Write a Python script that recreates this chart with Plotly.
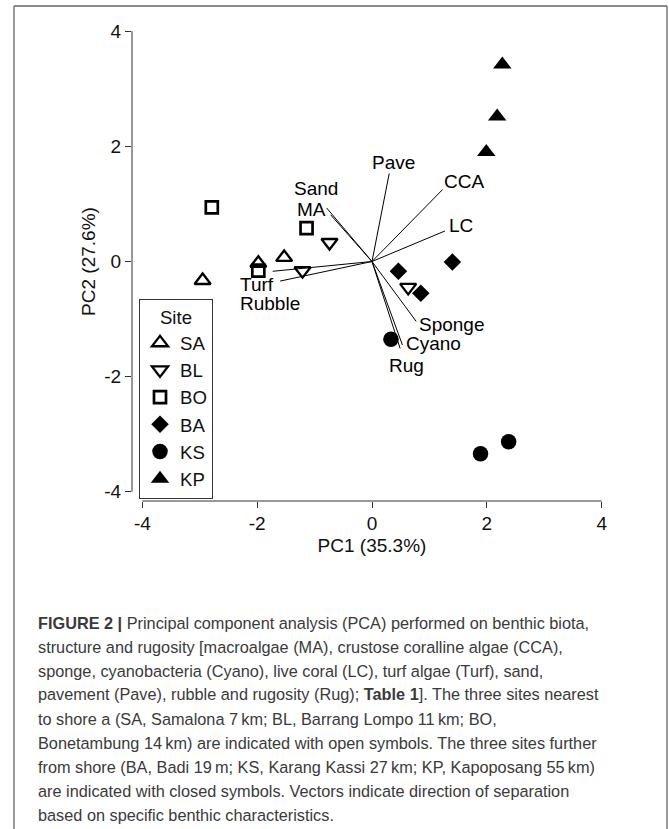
import plotly.graph_objects as go

# ---- PCA site scores (PC1, PC2), three replicate transects per site ----
sites = ["SA", "BL", "BO", "BA", "KS", "KP"]
sa_pc1 = [-2.95, -1.53, -1.98]
sa_pc2 = [-0.33, 0.07, -0.03]
bl_pc1 = [-0.74, -1.21, 0.63]
bl_pc2 = [0.33, -0.16, -0.45]
bo_pc1 = [-2.79, -1.14, -1.98]
bo_pc2 = [0.94, 0.58, -0.16]
ba_pc1 = [0.46, 1.40, 0.85]
ba_pc2 = [-0.17, -0.01, -0.55]
ks_pc1 = [0.33, 1.89, 2.38]
ks_pc2 = [-1.35, -3.34, -3.13]
kp_pc1 = [2.27, 2.18, 1.99]
kp_pc2 = [3.42, 2.52, 1.90]

# ---- Variable loadings (vector tips) ----
variables = ["Pave", "CCA", "LC", "Sand", "MA", "Turf", "Rubble", "Sponge", "Cyano", "Rug"]
load_pc1 = [0.30, 1.23, 1.27, -0.72, -0.79, -1.73, -1.60, 0.77, 0.53, 0.49]
load_pc2 = [1.53, 1.25, 0.53, 0.81, 0.93, -0.17, -0.34, -1.04, -1.45, -1.51]

tick_vals = [-4, -2, 0, 2, 4]
tick_text = ["-4", "-2", "0", "2", "4"]

caption_lines = [
    "<b>FIGURE 2 |</b> Principal component analysis (PCA) performed on benthic biota,",
    "structure and rugosity [macroalgae (MA), crustose coralline algae (CCA),",
    "sponge, cyanobacteria (Cyano), live coral (LC), turf algae (Turf), sand,",
    "pavement (Pave), rubble and rugosity (Rug); <b>Table 1</b>]. The three sites nearest",
    "to shore a (SA, Samalona 7\u2009km; BL, Barrang Lompo 11\u2009km; BO,",
    "Bonetambung 14\u2009km) are indicated with open symbols. The three sites further",
    "from shore (BA, Badi 19\u2009m; KS, Karang Kassi 27\u2009km; KP, Kapoposang 55\u2009km)",
    "are indicated with closed symbols. Vectors indicate direction of separation",
    "based on specific benthic characteristics.",
]

# ---- page geometry (pixels) ----
W, H = 669, 829
PL, PR, PT, PB = 132, 612, 22, 501


def px_x(p):
    return (p - PL) / (PR - PL)


def px_y(p):
    return (PB - p) / (PB - PT)


site_x = [sa_pc1, bl_pc1, bo_pc1, ba_pc1, ks_pc1, kp_pc1]
site_y = [sa_pc2, bl_pc2, bo_pc2, ba_pc2, ks_pc2, kp_pc2]
site_style = {
    "SA": dict(symbol="triangle-up-open", size=14, line=dict(width=2.3, color="black")),
    "BL": dict(symbol="triangle-down-open", size=14, line=dict(width=2.3, color="black")),
    "BO": dict(symbol="square-open", size=12, line=dict(width=2.7, color="black")),
    "BA": dict(symbol="diamond", size=13.5, line=dict(width=0)),
    "KS": dict(symbol="circle", size=15.5, line=dict(width=0)),
    "KP": dict(symbol="triangle-up", size=16, line=dict(width=0)),
}

fig = go.Figure()

for name, xs, ys in zip(sites, site_x, site_y):
    st = site_style[name]
    fig.add_trace(go.Scatter(
        x=xs, y=ys, mode="markers", name=name, legendgroup=name,
        marker=dict(color="black", symbol=st["symbol"], size=st["size"], line=st["line"]),
        hoverinfo="name+x+y",
    ))

# loading vectors from the origin
vx, vy = [], []
for a, b in zip(load_pc1, load_pc2):
    vx += [0, a, None]
    vy += [0, b, None]
fig.add_trace(go.Scatter(
    x=vx, y=vy, mode="lines", line=dict(color="black", width=1),
    showlegend=False, hoverinfo="skip",
))

# label offsets from each vector tip (pixels: right, up)
label_shift = {
    "Pave": (4, 11), "CCA": (21, 8), "LC": (16, 5), "Sand": (-15, 26),
    "MA": (-15, -2), "Turf": (-16, -13), "Rubble": (-10, -22),
    "Sponge": (36, -3), "Cyano": (31, 1), "Rug": (6, -17),
}
annotations = []
for name, a, b in zip(variables, load_pc1, load_pc2):
    dx, dy = label_shift[name]
    annotations.append(dict(
        x=a, y=b, xref="x", yref="y", text=name, showarrow=False,
        xanchor="center", yanchor="middle", xshift=dx, yshift=dy,
        font=dict(size=19, color="black"),
    ))

# caption below the plot
cap_top, cap_step = 622.5, 24.0
for i, line in enumerate(caption_lines):
    annotations.append(dict(
        x=px_x(36), y=px_y(cap_top + i * cap_step), xref="paper", yref="paper",
        text=line, showarrow=False, xanchor="left", yanchor="middle", align="left",
        font=dict(size=16.3, color="#3a3a3a", family="Liberation Sans, Arial, sans-serif"),
    ))

shapes = [
    # axis lines spanning the tick range only
    dict(type="line", xref="x", yref="paper", x0=-4, x1=4, y0=0, y1=0,
         line=dict(color="#333", width=1)),
    dict(type="line", xref="paper", yref="y", x0=0, x1=0, y0=-4, y1=4,
         line=dict(color="#333", width=1)),
    # figure frame
    dict(type="line", xref="paper", yref="paper", x0=px_x(14), x1=px_x(667),
         y0=px_y(6), y1=px_y(6), line=dict(color="#666", width=1.3)),
    dict(type="line", xref="paper", yref="paper", x0=px_x(14), x1=px_x(14),
         y0=px_y(6), y1=px_y(H), line=dict(color="#666", width=1.3)),
    dict(type="line", xref="paper", yref="paper", x0=px_x(667), x1=px_x(667),
         y0=px_y(6), y1=px_y(H), line=dict(color="#666", width=1.3)),
]

axis_common = dict(
    showgrid=False, zeroline=False, showline=False,
    ticks="outside", ticklen=6, tickwidth=1, tickcolor="#333",
    tickmode="array", tickvals=tick_vals, ticktext=tick_text,
    tickfont=dict(size=19, color="#111"),
)

fig.update_layout(
    width=W, height=H,
    margin=dict(l=PL, r=W - PR, t=PT, b=H - PB, autoexpand=False),
    paper_bgcolor="white", plot_bgcolor="white",
    font=dict(family="Liberation Sans, Arial, sans-serif", color="#111"),
    xaxis=dict(range=[-4.18, 4.18], title=dict(text="PC1 (35.3%)", font=dict(size=19), standoff=5),
               ticklabelstandoff=-1, **axis_common),
    yaxis=dict(range=[-4.16, 4.16], title=dict(text="PC2 (27.6%)", font=dict(size=19), standoff=3),
               ticklabelstandoff=0, **axis_common),
    legend=dict(
        x=px_x(139), y=px_y(299), xanchor="left", yanchor="top",
        bgcolor="white", bordercolor="#333", borderwidth=1,
        font=dict(size=18.6, color="#111"),
        title=dict(text="Site", font=dict(size=18.6), side="top center"),
        tracegroupgap=0, itemsizing="trace",
    ),
    annotations=annotations,
    shapes=shapes,
    showlegend=True,
)

fig.write_html("out.html")
